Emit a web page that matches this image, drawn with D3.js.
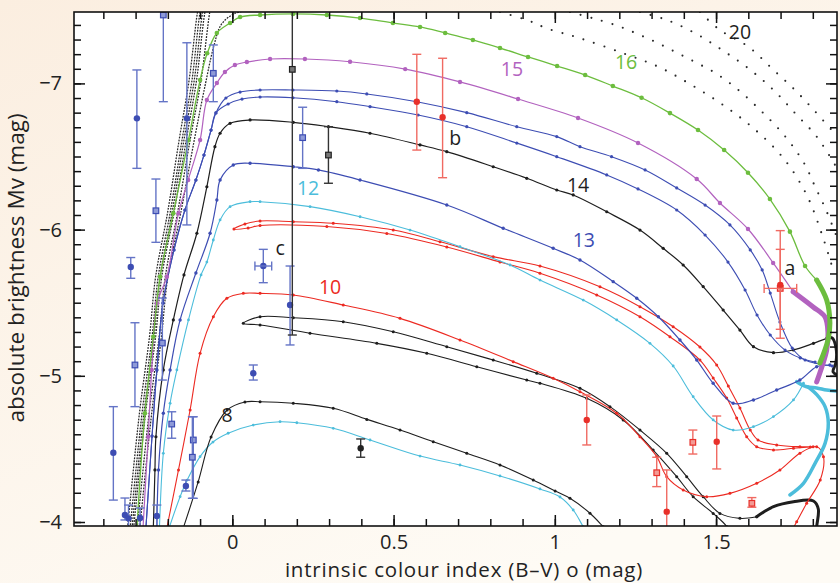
<!DOCTYPE html>
<html>
<head>
<meta charset="utf-8">
<script src="https://cdnjs.cloudflare.com/ajax/libs/d3/7.8.5/d3.min.js"></script>
<style>
  body { margin: 0; background: #fdf6ee; }
  svg { display: block; font-family: "Open Sans", "Noto Sans", sans-serif; }
</style>
</head>
<body>
<svg id="chart" width="840" height="583"></svg>
<script>
// tick labels
var xTicks = [0, 0.5, 1, 1.5];
var yTicks = [-7, -6, -5, -4];

// evolutionary tracks as [B-V, Mv]
var track16 = [[-0.296,-3.96],[-0.271,-4.744],[-0.245,-5.267],[-0.224,-5.678],[-0.183,-6.112],
  [-0.136,-6.613],[-0.100,-7.023],[-0.078,-7.206],[-0.048,-7.345],[-0.007,-7.413],[0.024,-7.454],
  [0.086,-7.468],[0.188,-7.475],[0.293,-7.468],[0.396,-7.447],[0.498,-7.413],[0.582,-7.386],
  [0.660,-7.345],[0.746,-7.297],[0.830,-7.242],[0.917,-7.181],[1.007,-7.119],[1.094,-7.057],
  [1.180,-6.982],[1.269,-6.902],[1.357,-6.797],[1.444,-6.681],[1.525,-6.544],[1.599,-6.389],
  [1.667,-6.209],[1.729,-5.986],[1.776,-5.751],[1.812,-5.655]];
var track16End = [[1.812,-5.655],[1.843,-5.518],[1.853,-5.361],[1.847,-5.245],[1.822,-5.088]];

var track15 = [[-0.277,-3.96],[-0.261,-4.583],[-0.250,-5.040],[-0.234,-5.496],[-0.203,-5.678],
  [-0.167,-6.112],[-0.137,-6.339],[-0.100,-6.613],[-0.079,-6.886],[-0.048,-7.003],[-0.023,-7.078],
  [0.008,-7.126],[0.045,-7.146],[0.117,-7.167],[0.225,-7.167],[0.365,-7.148],[0.536,-7.098],
  [0.706,-7.010],[0.886,-6.893],[1.072,-6.763],[1.258,-6.592],[1.440,-6.346],[1.512,-6.182],
  [1.599,-6.004],[1.677,-5.772],[1.739,-5.575]];
var track15End = [[1.739,-5.575],[1.801,-5.471],[1.838,-5.402],[1.847,-5.293],[1.843,-5.176],
  [1.828,-5.060],[1.812,-4.958]];

var blueMS = [[-0.268,-3.96],[-0.249,-4.588],[-0.234,-5.040],[-0.215,-5.498],[-0.181,-5.861],
  [-0.147,-6.134],[-0.113,-6.339],[-0.088,-6.510],[-0.066,-6.681],[-0.051,-6.798]];
var track13a = blueMS.concat([[-0.020,-6.900],[0.024,-6.941],[0.086,-6.955],[0.188,-6.955],
  [0.324,-6.948],[0.417,-6.928],[0.572,-6.875],[0.727,-6.800],[0.882,-6.704],[1.006,-6.636],
  [1.078,-6.567],[1.176,-6.499],[1.280,-6.408],[1.378,-6.285],[1.466,-6.168],[1.543,-6.032],
  [1.606,-5.861],[1.643,-5.724],[1.668,-5.566],[1.698,-5.368],[1.736,-5.190],[1.776,-5.108],
  [1.860,-5.067]]);
var track13b = blueMS.concat([[-0.013,-6.859],[0.030,-6.893],[0.086,-6.907],[0.188,-6.902],
  [0.324,-6.875],[0.427,-6.841],[0.576,-6.784],[0.727,-6.704],[0.882,-6.592],[1.006,-6.499],
  [1.161,-6.374],[1.258,-6.278],[1.378,-6.134],[1.466,-5.963],[1.537,-5.778],[1.590,-5.587],
  [1.627,-5.416],[1.668,-5.279],[1.714,-5.176],[1.761,-5.122],[1.807,-5.094]]);

var track14 = [[-0.245,-3.96],[-0.240,-4.356],[-0.237,-4.583],[-0.214,-5.040],[-0.183,-5.382],
  [-0.150,-5.690],[-0.110,-5.975],[-0.079,-6.293],[-0.054,-6.567],[-0.038,-6.659],[-0.007,-6.727],
  [0.055,-6.750],[0.189,-6.734],[0.298,-6.704],[0.427,-6.659],[0.582,-6.579],[0.665,-6.533],
  [0.809,-6.430],[0.913,-6.351],[1.006,-6.271],[1.057,-6.237],[1.161,-6.122],[1.264,-5.997],
  [1.336,-5.872],[1.398,-5.758],[1.460,-5.610],[1.522,-5.450],[1.574,-5.313],[1.616,-5.199],
  [1.678,-5.158],[1.740,-5.177],[1.802,-5.222],[1.843,-5.256]];
var track14End = [[1.843,-5.256],[1.860,-5.259],[1.872,-5.191],[1.872,-5.094],[1.863,-5.026],
  [1.885,-4.999]];

var track13 = [[-0.234,-3.96],[-0.229,-4.356],[-0.214,-4.744],[-0.193,-5.040],[-0.162,-5.382],
  [-0.113,-5.703],[-0.069,-5.975],[-0.048,-6.203],[-0.038,-6.339],[0.003,-6.442],[0.055,-6.454],
  [0.189,-6.430],[0.267,-6.408],[0.396,-6.339],[0.665,-6.168],[0.840,-6.009],[0.995,-5.872],
  [1.078,-5.792],[1.181,-5.644],[1.254,-5.530],[1.321,-5.404],[1.388,-5.245],[1.440,-5.108],
  [1.491,-4.949],[1.553,-4.812],[1.616,-4.835],[1.688,-4.903],[1.760,-4.971],[1.812,-5.062],
  [1.853,-5.074]];

var track12 = [[-0.226,-3.96],[-0.214,-4.470],[-0.193,-4.812],[-0.172,-5.040],[-0.136,-5.382],
  [-0.097,-5.690],[-0.079,-5.778],[-0.059,-5.929],[-0.038,-6.066],[-0.007,-6.157],[0.055,-6.191],
  [0.086,-6.191],[0.241,-6.157],[0.396,-6.088],[0.551,-5.997],[0.706,-5.883],[0.861,-5.758],
  [0.954,-5.655],[1.088,-5.518],[1.192,-5.382],[1.295,-5.222],[1.367,-5.067],[1.429,-4.857],
  [1.491,-4.698],[1.553,-4.629],[1.616,-4.652],[1.678,-4.721],[1.740,-4.835],[1.771,-4.949]];
var track12EndA = [[1.750,-4.960],[1.781,-4.925],[1.812,-4.917],[1.843,-4.903],[1.872,-4.896]];
var track12EndB = [[1.785,-4.924],[1.813,-4.869],[1.838,-4.789],[1.848,-4.675],[1.838,-4.538],
  [1.807,-4.401],[1.771,-4.265],[1.729,-4.185]];

var track10 = [[-0.203,-3.96],[-0.167,-4.356],[-0.131,-4.766],[-0.100,-5.154],[-0.059,-5.404],
  [-0.017,-5.530],[0.034,-5.564],[0.086,-5.564],[0.189,-5.553],[0.344,-5.484],[0.520,-5.393],
  [0.706,-5.245],[0.871,-5.097],[0.995,-4.983],[1.078,-4.891],[1.192,-4.744],[1.264,-4.583],
  [1.316,-4.447],[1.347,-4.310],[1.398,-4.219],[1.471,-4.173],[1.543,-4.196],[1.626,-4.265],
  [1.698,-4.356],[1.760,-4.470],[1.812,-4.515],[1.833,-4.447],[1.823,-4.287],[1.781,-4.128],
  [1.750,-4.002],[1.736,-3.945]];
var track10Loop = [[1.801,-4.515],[1.760,-4.515],[1.688,-4.527],[1.630,-4.561],[1.606,-4.629],
  [1.574,-4.780],[1.538,-4.930],[1.502,-5.074],[1.450,-5.197],[1.367,-5.336],[1.264,-5.473],
  [1.140,-5.609],[0.954,-5.751],[0.809,-5.815],[0.644,-5.917],[0.499,-5.997],[0.313,-6.043],
  [0.189,-6.054],[0.086,-6.059],[0.039,-6.038],[0.005,-6.004],[0.049,-6.011],[0.086,-6.028],
  [0.293,-6.021],[0.479,-5.973],[0.665,-5.881],[0.830,-5.778],[0.954,-5.701],[1.130,-5.553],
  [1.264,-5.404],[1.357,-5.267],[1.450,-5.108],[1.491,-4.985],[1.533,-4.848],[1.564,-4.711],
  [1.595,-4.583],[1.626,-4.515],[1.678,-4.493],[1.740,-4.504],[1.792,-4.513]];

var track8 = [[-0.152,-3.96],[-0.106,-4.274],[-0.066,-4.581],[-0.016,-4.766],[0.039,-4.821],
  [0.086,-4.823],[0.189,-4.812],[0.313,-4.778],[0.417,-4.702],[0.520,-4.629],[0.623,-4.549],
  [0.727,-4.470],[0.830,-4.390],[0.933,-4.287],[1.001,-4.212],[1.047,-4.162],[1.109,-4.060],
  [1.150,-3.968],[1.165,-3.932]];
var track8Loop = [[1.537,-3.932],[1.533,-3.968],[1.491,-4.059],[1.429,-4.173],[1.378,-4.310],
  [1.305,-4.492],[1.212,-4.698],[1.099,-4.846],[0.954,-4.949],[0.913,-4.971],[0.758,-5.062],
  [0.603,-5.154],[0.448,-5.222],[0.241,-5.291],[0.086,-5.348],[0.034,-5.359],[0.086,-5.404],
  [0.189,-5.397],[0.344,-5.370],[0.499,-5.301],[0.665,-5.199],[0.809,-5.108],[0.944,-5.017],
  [1.078,-4.915],[1.171,-4.789],[1.264,-4.629],[1.347,-4.470],[1.409,-4.310],[1.460,-4.173],
  [1.512,-4.059],[1.574,-4.025],[1.626,-4.036]];
var track8End = [[1.626,-4.036],[1.678,-4.105],[1.740,-4.139],[1.802,-4.144],[1.817,-4.089],
  [1.812,-3.966],[1.812,-3.911]];

var trackLow = [[-0.196,-3.96],[-0.162,-4.173],[-0.140,-4.287],[-0.100,-4.447],[-0.060,-4.547],
  [-0.013,-4.607],[0.065,-4.663],[0.148,-4.686],[0.200,-4.679],[0.313,-4.641],[0.427,-4.561],
  [0.582,-4.451],[0.706,-4.390],[0.830,-4.315],[0.954,-4.226],[1.016,-4.171],[1.057,-4.082],
  [1.088,-3.968],[1.100,-3.925]];

// high mass tracks, only sparse models
var msDotted = [
  [[-0.325,-3.96],[-0.288,-4.746],[-0.257,-5.266],[-0.238,-5.676],[-0.201,-6.114],[-0.165,-6.613],[-0.134,-7.023],[-0.108,-7.488],[-0.100,-7.57]],
  [[-0.317,-3.96],[-0.280,-4.746],[-0.249,-5.266],[-0.230,-5.676],[-0.193,-6.114],[-0.156,-6.613],[-0.125,-7.023],[-0.100,-7.488],[-0.091,-7.57]],
  [[-0.311,-3.96],[-0.274,-4.746],[-0.243,-5.266],[-0.224,-5.676],[-0.187,-6.114],[-0.150,-6.613],[-0.118,-7.023],[-0.092,-7.488],[-0.083,-7.57]],
  [[-0.306,-3.96],[-0.269,-4.746],[-0.238,-5.266],[-0.219,-5.676],[-0.181,-6.114],[-0.143,-6.613],[-0.111,-7.023],[-0.085,-7.488],[-0.076,-7.57]],
  [[-0.295,-3.96],[-0.258,-4.746],[-0.227,-5.266],[-0.208,-5.676],[-0.170,-6.114],[-0.131,-6.613],[-0.097,-7.023],[-0.070,-7.488],[-0.062,-7.57]],
  [[-0.287,-3.96],[-0.250,-4.746],[-0.220,-5.266],[-0.200,-5.676],[-0.160,-6.114],[-0.118,-6.613],[-0.085,-6.98],[-0.058,-7.25],[-0.035,-7.40],[0.000,-7.47],[0.04,-7.50],[0.08,-7.53]]
];
var arcs20 = [
  [[0.830,-7.488],[0.913,-7.434],[0.975,-7.377],[1.078,-7.309],[1.212,-7.206],[1.321,-7.114],[1.424,-6.989],[1.522,-6.852],[1.616,-6.693],[1.709,-6.488],[1.781,-6.237],[1.829,-5.963],[1.863,-5.724]],
  [[1.047,-7.488],[1.119,-7.445],[1.202,-7.388],[1.264,-7.331],[1.321,-7.274],[1.378,-7.210],[1.435,-7.146],[1.491,-7.080],[1.543,-7.001],[1.595,-6.905],[1.642,-6.806],[1.688,-6.704],[1.735,-6.579],[1.776,-6.442],[1.807,-6.294],[1.841,-6.134],[1.872,-5.963]],
  [[1.264,-7.488],[1.347,-7.434],[1.435,-7.343],[1.518,-7.229],[1.600,-7.103],[1.678,-6.955],[1.745,-6.796],[1.812,-6.636],[1.869,-6.442]],
  [[1.450,-7.488],[1.512,-7.365],[1.600,-7.251],[1.678,-7.092],[1.750,-6.943],[1.812,-6.796],[1.872,-6.647]]
];

// observed stars: [B-V, Mv, Mv low, Mv high]
var blueDots = [[-0.296,-6.761,-7.092,-6.419],[-0.141,-6.761,-7.278,-6.032],[-0.315,-5.744,-5.809,-5.667],
  [0.096,-5.751,-5.865,-5.637],[0.179,-5.484,-5.751,-5.211],[0.065,-5.017,-5.074,-4.971],
  [-0.369,-4.474,-4.789,-4.150],[-0.333,-4.048,-4.164,-4.014],[-0.322,-4.025,-4.116,-3.966],
  [-0.144,-4.246,-4.287,-4.212],[-0.234,-4.041,-4.116,-3.966],[-0.286,-4.027,-4.096,-3.966]];
var blueSquares = [[-0.214,-7.468,-7.6,-6.875],[-0.059,-7.069,-7.263,-6.875],[-0.237,-6.129,-6.346,-5.913],
  [0.218,-6.629,-6.837,-6.419],[-0.302,-5.074,-5.363,-4.789],[-0.217,-5.224,-5.532,-4.971],
  [-0.188,-4.670,-4.754,-4.573],[-0.121,-4.561,-4.720,-4.162],[-0.124,-4.443,-4.720,-4.162]];
var blueXErr = [[0.096,-5.751,0.070,0.122]];
var redDots = [[0.572,-6.875,-7.199,-6.544],[0.652,-6.768,-7.172,-6.355],[1.699,-5.621,-5.993,-5.257],
  [1.099,-4.698,-4.869,-4.527],[1.347,-4.071,-4.356,-3.90],[1.502,-4.549,-4.725,-4.363]];
var redSquares = [[1.699,-5.598,-5.865,-5.318],[1.316,-4.337,-4.443,-4.242],[1.428,-4.545,-4.629,-4.465],
  [1.611,-4.128,-4.167,-4.101]];
var redXErr = [[1.699,-5.598,1.649,1.750]];
var blackDots = [[0.398,-4.504,-4.568,-4.443]];
var blackSquares = [[0.186,-7.096,-7.6,-5.279],[0.298,-6.510,-6.704,-6.317]];

// track labels
var labelText = ["20", "16", "15", "b", "14", "12", "13", "c", "10", "a", "8"];
var labelX = [1.574, 1.221, 0.867, 0.691, 1.072, 0.235, 1.090, 0.148, 0.303, 1.729, -0.016];
var labelY = [-7.352, -7.146, -7.099, -6.627, -6.305, -6.285, -5.929, -5.874, -5.607, -5.737, -4.732];

var col = {
  green: "#6cbd3e", magenta: "#b262bf", blue: "#3d4db3", black: "#1e1e1e",
  cyan: "#4cbddb", red: "#ec2a22"
};
var labelCol = [col.black, col.green, col.magenta, col.black, col.black, col.cyan, col.blue,
  col.black, col.red, col.black, col.black];

var svg = d3.select("#chart");
var pLeft = 74, pRight = 837, pTop = 12, pBottom = 526;

var x = d3.scaleLinear().domain([-0.491, 1.875]).range([pLeft, pRight]);
var y = d3.scaleLinear().domain([-3.9727, -7.4884]).range([pBottom, pTop]);

var defs = svg.append("defs");
var grad = defs.append("linearGradient").attr("id", "bg")
  .attr("x1", 0).attr("y1", 0).attr("x2", 0.6).attr("y2", 1);
grad.append("stop").attr("offset", 0).attr("stop-color", "#fbeee0");
grad.append("stop").attr("offset", 1).attr("stop-color", "#fefbf5");
defs.append("clipPath").attr("id", "plot").append("rect")
  .attr("x", pLeft).attr("y", pTop).attr("width", pRight - pLeft).attr("height", pBottom - pTop);

svg.append("rect").attr("width", 840).attr("height", 583).attr("fill", "url(#bg)");
svg.append("rect").attr("x", pLeft).attr("y", pTop).attr("width", pRight - pLeft)
  .attr("height", pBottom - pTop).attr("fill", "#fff");

var line = d3.line()
  .x(function(d) { return x(d[0]); })
  .y(function(d) { return y(d[1]); })
  .curve(d3.curveCatmullRom.alpha(0.5));

var plot = svg.append("g").attr("clip-path", "url(#plot)");

// dotted high mass tracks
msDotted.forEach(function(t) {
  plot.append("path").attr("d", line(t)).attr("fill", "none")
    .attr("stroke", "#262626").attr("stroke-width", 1.25).attr("stroke-dasharray", "1.8 1.2");
});
arcs20.forEach(function(t) {
  plot.append("path").attr("d", line(t)).attr("fill", "none")
    .attr("stroke", "#2a2a2a").attr("stroke-width", 2.1).attr("stroke-linecap", "round")
    .attr("stroke-dasharray", "0 11");
});

function drawTrack(pts, color, w, r) {
  plot.append("path").attr("d", line(pts)).attr("fill", "none")
    .attr("stroke", color).attr("stroke-width", w);
  plot.append("g").selectAll("circle").data(pts).enter().append("circle")
    .attr("cx", function(d) { return x(d[0]); })
    .attr("cy", function(d) { return y(d[1]); })
    .attr("r", r).attr("fill", color);
}
function drawThick(pts, color, w) {
  plot.append("path").attr("d", line(pts)).attr("fill", "none")
    .attr("stroke", color).attr("stroke-width", w).attr("stroke-linecap", "round");
}

drawTrack(trackLow, col.cyan, 1.1, 1.4);
drawTrack(track8, col.black, 1.1, 1.5);
drawTrack(track8Loop, col.black, 1.1, 1.5);
drawThick(track8End, col.black, 3);
drawTrack(track10, col.red, 1.1, 1.5);
drawTrack(track10Loop, col.red, 1.1, 1.5);
drawTrack(track12, col.cyan, 1.1, 1.4);
drawThick(track12EndA, col.cyan, 3.5);
drawThick(track12EndB, col.cyan, 3.5);
drawTrack(track13, col.blue, 1.2, 1.7);
drawTrack(track14, col.black, 1.2, 1.6);
drawThick(track14End, col.black, 3);
drawTrack(track13b, col.blue, 1.1, 1.6);
drawTrack(track13a, col.blue, 1.1, 1.6);
drawTrack(track15, col.magenta, 1.2, 2.2);
drawThick(track15End, col.magenta, 5);
drawTrack(track16, col.green, 1.3, 2.3);
drawThick(track16End, col.green, 5);

// observations with error bars
var obs = svg.append("g").attr("clip-path", "url(#plot)");
function drawErr(rows, bar, fill, stroke, square) {
  rows.forEach(function(d) {
    var px = x(d[0]), py = y(d[1]);
    obs.append("line").attr("x1", px).attr("x2", px)
      .attr("y1", y(d[2])).attr("y2", y(d[3])).attr("stroke", bar).attr("stroke-width", 1.4);
    [d[2], d[3]].forEach(function(v) {
      obs.append("line").attr("x1", px - 4.5).attr("x2", px + 4.5)
        .attr("y1", y(v)).attr("y2", y(v)).attr("stroke", bar).attr("stroke-width", 1.4);
    });
    if (square) {
      obs.append("rect").attr("x", px - 2.8).attr("y", py - 2.8).attr("width", 5.6).attr("height", 5.6)
        .attr("fill", fill).attr("stroke", stroke).attr("stroke-width", 1.2);
    } else {
      obs.append("circle").attr("cx", px).attr("cy", py).attr("r", 3.2).attr("fill", stroke);
    }
  });
}
function drawXErr(rows, bar) {
  rows.forEach(function(d) {
    var py = y(d[1]);
    obs.append("line").attr("x1", x(d[2])).attr("x2", x(d[3]))
      .attr("y1", py).attr("y2", py).attr("stroke", bar).attr("stroke-width", 1.4);
    [d[2], d[3]].forEach(function(v) {
      obs.append("line").attr("x1", x(v)).attr("x2", x(v))
        .attr("y1", py - 4.5).attr("y2", py + 4.5).attr("stroke", bar).attr("stroke-width", 1.4);
    });
  });
}
drawErr(blueSquares, "#6474c6", "#8e9ad8", "#3d4db3", true);
drawErr(blueDots, "#6474c6", "#3d4db3", "#3d4db3", false);
drawXErr(blueXErr, "#6474c6");
drawErr(redSquares, "#f06a62", "#f39a94", "#e8302a", true);
drawErr(redDots, "#f06a62", "#e8302a", "#e8302a", false);
drawXErr(redXErr, "#f06a62");
drawErr(blackSquares, "#333", "#777", "#222", true);
drawErr(blackDots, "#333", "#222", "#222", false);

// labels on the tracks
svg.append("g").selectAll("text").data(labelText).enter().append("text")
  .attr("x", function(d, i) { return x(labelX[i]); })
  .attr("y", function(d, i) { return y(labelY[i]); })
  .attr("dy", "0.35em").attr("text-anchor", "middle")
  .attr("font-size", 19.5).attr("fill", function(d, i) { return labelCol[i]; })
  .text(function(d) { return d; });

// axes, ticks on all four sides pointing in
var xMinor = d3.range(-4, 19).map(function(i) { return i / 10; });
var yMinor = d3.range(-74, -39).map(function(i) { return i / 10; });
var fmt = d3.format("~g");

function styleAxis(g) {
  g.select(".domain").remove();
  g.selectAll("line").attr("stroke", "#111").attr("stroke-width", 1.5);
  g.selectAll("text").attr("font-size", 20).attr("fill", "#222")
    .attr("font-family", "Open Sans, Noto Sans, sans-serif");
}

svg.append("g").attr("transform", "translate(0," + pBottom + ")")
  .call(d3.axisBottom(x).tickValues(xMinor).tickSize(-7).tickFormat("")).call(styleAxis);
svg.append("g").attr("transform", "translate(0," + pBottom + ")")
  .call(d3.axisBottom(x).tickValues(xTicks).tickSize(-11).tickPadding(8.5).tickFormat(fmt)).call(styleAxis);
svg.append("g").attr("transform", "translate(0," + pTop + ")")
  .call(d3.axisTop(x).tickValues(xMinor).tickSize(-7).tickFormat("")).call(styleAxis);
svg.append("g").attr("transform", "translate(0," + pTop + ")")
  .call(d3.axisTop(x).tickValues(xTicks).tickSize(-11).tickFormat("")).call(styleAxis);
svg.append("g").attr("transform", "translate(" + pLeft + ",0)")
  .call(d3.axisLeft(y).tickValues(yMinor).tickSize(-7).tickFormat("")).call(styleAxis);
svg.append("g").attr("transform", "translate(" + pLeft + ",0)")
  .call(d3.axisLeft(y).tickValues(yTicks).tickSize(-11).tickPadding(12).tickFormat(fmt)).call(styleAxis);
svg.append("g").attr("transform", "translate(" + pRight + ",0)")
  .call(d3.axisRight(y).tickValues(yMinor).tickSize(-7).tickFormat("")).call(styleAxis);
svg.append("g").attr("transform", "translate(" + pRight + ",0)")
  .call(d3.axisRight(y).tickValues(yTicks).tickSize(-11).tickFormat("")).call(styleAxis);

svg.append("rect").attr("x", pLeft).attr("y", pTop).attr("width", pRight - pLeft)
  .attr("height", pBottom - pTop).attr("fill", "none").attr("stroke", "#111").attr("stroke-width", 1.6);

svg.append("text").attr("x", 464).attr("y", 576.5).attr("text-anchor", "middle")
  .attr("font-size", 20.5).attr("letter-spacing", 0.8).attr("fill", "#222")
  .text("intrinsic colour index (B\u2013V) o (mag)");
svg.append("text").attr("transform", "translate(24,268) rotate(-90)")
  .attr("text-anchor", "middle").attr("font-size", 22.5).attr("fill", "#222")
  .text("absolute brightness Mv (mag)");
</script>
</body>
</html>
